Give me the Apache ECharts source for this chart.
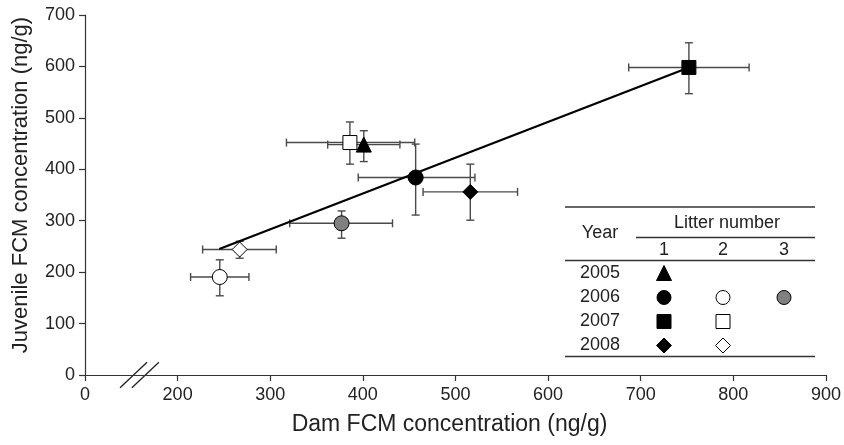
<!DOCTYPE html>
<html>
<head>
<meta charset="utf-8">
<script src="https://cdn.jsdelivr.net/npm/echarts@6/dist/echarts.min.js"></script>
<style>
  html, body { margin: 0; padding: 0; background: #fff; }
  #chart { width: 844px; height: 445px; }
</style>
</head>
<body>
<div id="chart"></div>
<script>
// litters: year + litter number
const catYear   = ['2005', '2006', '2006', '2006', '2007', '2007', '2008', '2008'];
const catLitter = [1, 1, 2, 3, 1, 2, 1, 2];

// dam FCM (x) mean and error bar ends
const damMean = [401, 457, 245.5, 377, 752, 386, 516, 267];
const damLow  = [362, 395, 214, 321, 687, 317.5, 465, 227];
const damHigh = [440, 521, 277, 432, 817, 456, 567, 306.5];

// juvenile FCM (y) mean and error bar ends
const juvMean = [448, 384, 190.5, 295, 598, 452, 356, 244];
const juvLow  = [415, 311, 154, 266, 547, 410, 301, 227];
const juvHigh = [475, 449, 224, 319, 646, 492, 410, 260];

// regression line ends
const regDam = [245, 752];
const regJuv = [245, 598];

const xTickLabels = ['0', '200', '300', '400', '500', '600', '700', '800', '900'];
const yTickLabels = ['0', '100', '200', '300', '400', '500', '600', '700'];
const legendYears = ['2005', '2006', '2007', '2008'];
const legendLitters = ['1', '2', '3'];

// marker look per litter (kept apart from the data)
const markerStyle = {
    '2005-1': { symbol: 'triangle', fill: '#000' },
    '2006-1': { symbol: 'circle', fill: '#000' },
    '2006-2': { symbol: 'circle', fill: '#fff' },
    '2006-3': { symbol: 'circle', fill: '#808080' },
    '2007-1': { symbol: 'rect', fill: '#000' },
    '2007-2': { symbol: 'rect', fill: '#fff' },
    '2008-1': { symbol: 'diamond', fill: '#000' },
    '2008-2': { symbol: 'diamond', fill: '#fff' }
};

// x axis is broken between 0 and 200: values past the break slide left by 100
const brk = v => (v >= 150 ? v - 100 : v);

const FONT = '"Liberation Sans", Arial, Helvetica, sans-serif';
const INK = '#222';

const chart = echarts.init(document.getElementById('chart'));

const keys = catYear.map((y, i) => y + '-' + catLitter[i]);

const errData = keys.map((k, i) => [
    brk(damMean[i]), juvMean[i], brk(damLow[i]), brk(damHigh[i]), juvLow[i], juvHigh[i]
]);

const pointData = keys.map((k, i) => ({
    value: [brk(damMean[i]), juvMean[i]],
    symbol: markerStyle[k].symbol,
    symbolSize: markerStyle[k].symbol === 'rect' ? 14 : 15,
    itemStyle: { color: markerStyle[k].fill, borderColor: '#000', borderWidth: 1, opacity: 1 }
}));

const renderErr = (params, api) => {
    const c = api.coord([api.value(0), api.value(1)]);
    const xl = api.coord([api.value(2), api.value(1)]);
    const xh = api.coord([api.value(3), api.value(1)]);
    const yl = api.coord([api.value(0), api.value(4)]);
    const yh = api.coord([api.value(0), api.value(5)]);
    const cap = 4;
    const st = { stroke: '#4a4a4a', lineWidth: 1.4 };
    const seg = (x1, y1, x2, y2) => ({ type: 'line', shape: { x1, y1, x2, y2 }, style: st });
    return {
        type: 'group',
        children: [
            seg(xl[0], c[1], xh[0], c[1]),
            seg(xl[0], c[1] - cap, xl[0], c[1] + cap),
            seg(xh[0], c[1] - cap, xh[0], c[1] + cap),
            seg(c[0], yl[1], c[0], yh[1]),
            seg(c[0] - cap, yl[1], c[0] + cap, yl[1]),
            seg(c[0] - cap, yh[1], c[0] + cap, yh[1])
        ]
    };
};

// legend table
const tbl = { left: 565, right: 815, top: 207, yearX: 600, colX: [664, 723, 784], rowY: [273, 297.5, 321.5, 345.5] };
const txt = (s, x, y) => ({
    type: 'text', x, y,
    style: { text: s, font: '18px ' + FONT, fill: INK, align: 'center', verticalAlign: 'middle' }
});
const hline = (x1, x2, y) => ({
    type: 'line', shape: { x1, y1: y, x2, y2: y }, style: { stroke: '#333', lineWidth: 1.3 }
});
const legendSymbol = (k, cx, cy) => {
    const m = markerStyle[k];
    const st = { fill: m.fill, stroke: '#000', lineWidth: 1 };
    const r = 7;
    if (m.symbol === 'circle') return { type: 'circle', shape: { cx, cy, r }, style: st };
    if (m.symbol === 'rect') return { type: 'rect', shape: { x: cx - 7, y: cy - 7, width: 14, height: 14 }, style: st };
    if (m.symbol === 'triangle') return { type: 'polygon', shape: { points: [[cx, cy - 7.5], [cx + 7.5, cy + 7.5], [cx - 7.5, cy + 7.5]] }, style: st };
    return { type: 'polygon', shape: { points: [[cx, cy - 7.5], [cx + 7.5, cy], [cx, cy + 7.5], [cx - 7.5, cy]] }, style: st };
};

const legendItems = [
    hline(tbl.left, tbl.right, tbl.top),
    txt('Year', tbl.yearX, 233),
    txt('Litter number', 727, 223),
    hline(636, tbl.right, 237.5),
    hline(tbl.left, tbl.right, 260.5),
    hline(tbl.left, tbl.right, 356.5)
];
legendLitters.forEach((s, j) => legendItems.push(txt(s, tbl.colX[j], 250.5)));
legendYears.forEach((s, r) => legendItems.push(txt(s, tbl.yearX, tbl.rowY[r])));
keys.forEach((k, i) => {
    const r = legendYears.indexOf(catYear[i]);
    legendItems.push(legendSymbol(k, tbl.colX[catLitter[i] - 1], tbl.rowY[r]));
});

const axisLine = { lineStyle: { color: '#333', width: 1.2 } };

chart.setOption({
    animation: false,
    backgroundColor: '#fff',
    grid: { left: 85, right: 15, top: 15, bottom: 70 },
    xAxis: {
        type: 'value', min: 0, max: 800, interval: 100,
        splitLine: { show: false },
        axisLine: { show: true, onZero: false, ...axisLine },
        axisTick: { show: true, length: 6, lineStyle: { color: '#333', width: 1.2 } },
        axisLabel: { color: INK, fontSize: 18, fontFamily: FONT, margin: 11, formatter: v => xTickLabels[Math.round(v / 100)] },
        name: 'Dam FCM concentration (ng/g)',
        nameLocation: 'middle', nameGap: 38,
        nameTextStyle: { color: INK, fontSize: 23, fontFamily: FONT, padding: [0, 12, 0, 0] }
    },
    yAxis: {
        type: 'value', min: 0, max: 700, interval: 100,
        splitLine: { show: false },
        axisLine: { show: true, ...axisLine },
        axisTick: { show: true, length: 6, lineStyle: { color: '#333', width: 1.2 } },
        axisLabel: { color: INK, fontSize: 18, fontFamily: FONT, margin: 10, formatter: v => yTickLabels[Math.round(v / 100)] },
        name: 'Juvenile FCM concentration (ng/g)',
        nameLocation: 'middle', nameGap: 53,
        nameTextStyle: { color: INK, fontSize: 22, fontFamily: FONT, padding: [0, 0, 0, 20] }
    },
    series: [
        { type: 'custom', name: 'error', renderItem: renderErr, data: errData, z: 1, silent: true },
        {
            type: 'line', name: 'fit', data: regDam.map((d, i) => [brk(d), regJuv[i]]),
            symbol: 'none', lineStyle: { color: '#000', width: 2.2 }, z: 2, silent: true
        },
        { type: 'scatter', name: 'litters', data: pointData, z: 3 }
    ],
    graphic: legendItems
});

// axis break marks "//"
const mk = [52.4, 65.2].map(v => chart.convertToPixel({ gridIndex: 0 }, [v, 0]));
chart.setOption({
    graphic: legendItems.concat(mk.map(p => ({
        type: 'line',
        shape: { x1: p[0] - 13.5, y1: p[1] + 12.8, x2: p[0] + 13.5, y2: p[1] - 12.8 },
        style: { stroke: '#222', lineWidth: 1.3 }
    })))
});
</script>
</body>
</html>
